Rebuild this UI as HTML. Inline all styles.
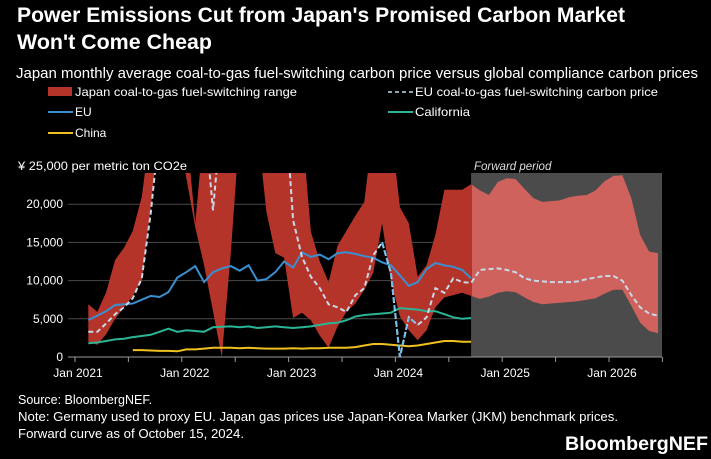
<!DOCTYPE html>
<html><head><meta charset="utf-8">
<style>
html,body{margin:0;padding:0;background:#000;}
body{width:711px;height:459px;overflow:hidden;font-family:"Liberation Sans",Arial,sans-serif;}
svg{display:block}
</style></head>
<body>
<svg id="chart" width="711" height="459" viewBox="0 0 711 459">
  <rect x="0" y="0" width="711" height="459" fill="#000"/>
  <text x="17" y="22" fill="#fff" font-size="21" font-weight="bold" textLength="608" lengthAdjust="spacingAndGlyphs">Power Emissions Cut from Japan's Promised Carbon Market</text>
  <text x="17" y="49" fill="#fff" font-size="21" font-weight="bold" textLength="195" lengthAdjust="spacingAndGlyphs">Won't Come Cheap</text>
  <text x="16" y="78" fill="#fff" font-size="15" textLength="682" lengthAdjust="spacingAndGlyphs">Japan monthly average coal-to-gas fuel-switching carbon price versus global compliance carbon prices</text>

  <g>
    <g>
      <rect x="48" y="87" width="24" height="9" fill="#b5342a"/>
      <text x="75" y="96" fill="#fff" font-size="12" textLength="222" lengthAdjust="spacingAndGlyphs">Japan coal-to-gas fuel-switching range</text>
    </g>
    <g>
      <line x1="388" y1="92" x2="413" y2="92" stroke="#c9d9ea" stroke-width="1.5" stroke-dasharray="4,3"/>
      <text x="415" y="96" fill="#fff" font-size="12" textLength="243" lengthAdjust="spacingAndGlyphs">EU coal-to-gas fuel-switching carbon price</text>
    </g>
    <g>
      <line x1="48" y1="112" x2="73" y2="112" stroke="#3a8fd0" stroke-width="2"/>
      <text x="75" y="116" fill="#fff" font-size="12">EU</text>
    </g>
    <g>
      <line x1="388" y1="112" x2="413" y2="112" stroke="#2bb596" stroke-width="2"/>
      <text x="415" y="116" fill="#fff" font-size="12" textLength="55" lengthAdjust="spacingAndGlyphs">California</text>
    </g>
    <g>
      <line x1="48" y1="133" x2="73" y2="133" stroke="#f0c020" stroke-width="2"/>
      <text x="75" y="137" fill="#fff" font-size="12">China</text>
    </g>
  </g>

  <text x="18" y="170" fill="#fff" font-size="12" textLength="169" lengthAdjust="spacingAndGlyphs">¥ 25,000 per metric ton CO2e</text>
  <text x="474" y="170" fill="#ddd" font-size="11.5" font-style="italic">Forward period</text>

  <defs>
    <clipPath id="plotClip"><rect x="60" y="173" width="602" height="190"/></clipPath>
    <clipPath id="histClip"><rect x="60" y="173" width="412" height="190"/></clipPath>
    <clipPath id="fwdClip"><rect x="472" y="173" width="190" height="190"/></clipPath>
  </defs>
  <g id="grid"></g>
  <g id="marks"></g>
  <g id="axis"></g>

  <text x="18" y="404" fill="#fff" font-size="12.5">Source: BloombergNEF.</text>
  <text x="18" y="421" fill="#fff" font-size="12.5" textLength="600" lengthAdjust="spacingAndGlyphs">Note: Germany used to proxy EU. Japan gas prices use Japan-Korea Marker (JKM) benchmark prices.</text>
  <text x="18" y="438" fill="#fff" font-size="12.5" textLength="226" lengthAdjust="spacingAndGlyphs">Forward curve as of October 15, 2024.</text>
  <text x="565" y="450" fill="#fff" font-size="19" font-weight="bold" textLength="143" lengthAdjust="spacingAndGlyphs">BloombergNEF</text>
</svg>
<script>
// Monthly points starting Feb 2021 (index 0) through Jun 2026
const bandLow = [2000,1600,3000,5000,6500,8000,10000,19500,30000,30000,30000,23500,17000,12000,6000,0,13600,30000,30000,30000,19000,13600,13000,5100,5800,4800,2800,1200,4000,5900,7000,8800,11000,17500,10000,5300,3500,2200,3500,6500,7800,8100,8400,8000,
  7600,7900,8400,8600,8500,7800,7200,6900,7000,7100,7200,7300,7500,7700,8300,8800,8800,6700,4500,3400,3100];
const bandHigh = [6900,5900,8500,12700,14300,16500,21000,30000,30000,30000,30000,30000,17500,30000,30000,30000,30000,30000,30000,30000,30000,30000,30000,30000,30000,16400,12500,9800,14600,16500,18500,20300,30000,30000,30000,19600,17500,10500,12000,16000,21900,21900,21900,22600,
  21800,21200,22900,23400,23300,22000,20800,20300,20400,20500,20900,21100,21200,21800,23000,23700,23800,20800,16000,13800,13600];
const euFuelSwitch = [3300,3300,4400,5600,6500,7700,10300,18800,30000,35000,35000,35000,35000,32000,19200,32000,35000,35000,35000,35000,35000,35000,35000,17900,13100,10500,9000,6900,6500,5900,8100,9000,13300,15000,11000,0,5200,4200,5200,9000,8400,10300,9800,9700,
  11400,11500,11600,11400,11100,10300,10000,9900,9800,9800,9800,9900,10200,10400,10600,10600,10000,8100,6500,5700,5400];
const euPrice = [4840,5400,6000,6800,6900,7000,7500,8000,7850,8500,10400,11100,11900,9800,11100,11600,11900,11300,12000,10000,10200,11100,12500,11700,13700,13100,13400,12800,13600,13700,13500,13200,13000,12400,12000,10700,9300,9800,11500,12300,12000,11800,11400,10300];
const californiaPrice = [1800,1900,2100,2300,2400,2600,2750,2900,3300,3700,3300,3500,3400,3300,3900,3950,4000,3900,4000,3800,3900,4000,3900,3800,3900,4000,4200,4400,4500,4800,5300,5500,5600,5700,5800,6400,6300,6200,6000,6000,5600,5200,5000,5100];
const chinaPrice = [null,null,null,null,null,900,900,850,800,800,750,1000,1000,1100,1200,1200,1200,1150,1200,1150,1100,1100,1100,1150,1100,1150,1150,1200,1200,1200,1300,1500,1700,1700,1600,1500,1400,1500,1700,1900,2100,2100,2000,2000];
const yTicks = [0,5000,10000,15000,20000];
const yTickLabels = ["0","5,000","10,000","15,000","20,000"];
const xLabels = ["Jan 2021","Jan 2022","Jan 2023","Jan 2024","Jan 2025","Jan 2026"];
const forwardStartIndex = 43;

const NS = "http://www.w3.org/2000/svg";
function xScale(i){ return 75 + 8.9*(i+1.5); }
function xMonth(t){ return 75 + 8.9*t; }
function yScale(v){ return 357 - v*0.00764; }
function mk(tag, attrs, parent){ const e=document.createElementNS(NS,tag); for(const k in attrs) e.setAttribute(k,attrs[k]); parent.appendChild(e); return e; }
const grid=document.getElementById('grid'), marks=document.getElementById('marks'), axis=document.getElementById('axis');

yTicks.forEach((v,k)=>{
  const gl = mk('line',{x1:68,x2:662,y1:yScale(v),y2:yScale(v),stroke:v===0?'#9a9a9a':'#4a4a4a','stroke-width':1},grid);
  
  
  const t = mk('text',{x:63,y:yScale(v)+4,fill:'#fff','font-size':12,'text-anchor':'end'},axis);
  t.textContent = yTickLabels[k];
  
  
});

// forward period shading
const fw = mk('rect',{x:xScale(forwardStartIndex),y:173,width:662-xScale(forwardStartIndex),height:184,fill:'#4b4b4b'},marks);


grid.parentNode.insertBefore(fw, grid);

function bandPath(){
  let d='';
  bandHigh.forEach((v,i)=>{ d+=(i?'L':'M')+xScale(i).toFixed(1)+','+yScale(v).toFixed(1); });
  for(let i=bandLow.length-1;i>=0;i--) d+='L'+xScale(i).toFixed(1)+','+yScale(bandLow[i]).toFixed(1);
  return d+'Z';
}
const bh = mk('path',{d:bandPath(),fill:'#b5342a','clip-path':'url(#histClip)'},marks);


const bf = mk('path',{d:bandPath(),fill:'#cf625c','clip-path':'url(#fwdClip)'},marks);



function linePath(arr, from, to){
  let d='', started=false;
  arr.forEach((v,i)=>{ if(v===null||i<from||i>to) return; d+=(started?'L':'M')+xScale(i).toFixed(1)+','+yScale(v).toFixed(1); started=true; });
  return d;
}
const ch = mk('path',{d:linePath(chinaPrice,0,99),fill:'none',stroke:'#f0c020','stroke-width':2,'clip-path':'url(#plotClip)'},marks);


const ca = mk('path',{d:linePath(californiaPrice,0,99),fill:'none',stroke:'#2bb596','stroke-width':2,'clip-path':'url(#plotClip)'},marks);


const eu = mk('path',{d:linePath(euPrice,0,99),fill:'none',stroke:'#3a8fd0','stroke-width':2,'clip-path':'url(#plotClip)'},marks);


const ed = mk('path',{d:linePath(euFuelSwitch,0,99),fill:'none',stroke:'#c9d9ea','stroke-width':2,'stroke-dasharray':'5,3','clip-path':'url(#plotClip)'},marks);


const ed2 = mk('path',{d:linePath(euFuelSwitch,33,37),fill:'none',stroke:'#6ec0ee','stroke-width':2,'stroke-dasharray':'5,3','clip-path':'url(#plotClip)'},marks);



for(let t=0;t<=66;t+=6){
  const tk = mk('line',{x1:xMonth(t),x2:xMonth(t),y1:357,y2:362,stroke:'#9a9a9a','stroke-width':1},axis);
  
  
}
xLabels.forEach((s,k)=>{
  const t = mk('text',{x:xMonth(k*12)+3,y:377,fill:'#fff','font-size':12,'text-anchor':'middle'},axis);
  t.textContent = s;
  
  
});
</script>
</body></html>
